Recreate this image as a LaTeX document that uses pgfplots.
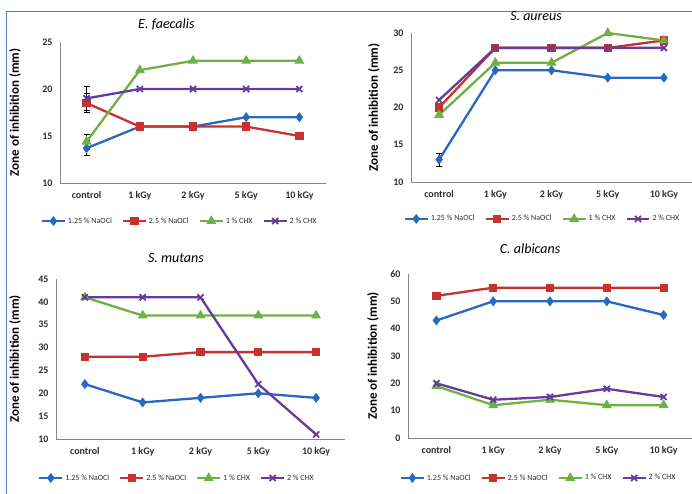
\documentclass[border=0pt]{standalone}
\usepackage{pgfplots}
\pgfplotsset{compat=1.18}
\usepackage{fontspec}
\setmainfont{Carlito}
\definecolor{frameblue}{RGB}{79,129,189}
\definecolor{axisgray}{RGB}{134,134,134}
\definecolor{ticktext}{RGB}{45,45,45}
\definecolor{sblue}{RGB}{40,104,192}
\definecolor{sred}{RGB}{200,50,44}
\definecolor{sgreen}{RGB}{110,176,66}
\definecolor{spurple}{RGB}{100,60,156}
\pgfplotsset{
  panel/.style={
    scale only axis, anchor=south west,
    xmin=-0.5, xmax=4.5, xtick={0,...,4},
    xticklabels={control,1 kGy,2 kGy,5 kGy,10 kGy},
    axis x line*=bottom, axis y line*=left,
    axis line style={draw=axisgray, line width=0.8pt, -},
    major tick length=0pt,
    /pgf/number format/assume math mode=true,
    tick label style={font=\bfseries\fontsize{10}{12}\selectfont, text=ticktext},
    yticklabel style={xshift=-4pt},
    xticklabel style={yshift=-5pt},
    ylabel={Zone of inhibition (mm)},
    title style={font=\itshape\fontsize{14}{16}\selectfont, anchor=center},
    legend columns=4,
    legend cell align=left,
    legend style={draw=none, fill=none, anchor=center,
      font=\fontsize{8}{10}\selectfont, text=ticktext,
      /tikz/every even column/.append style={column sep=8pt}},
    legend image code/.code={\draw[mark repeat=2,mark phase=2] plot coordinates {(0cm,0cm) (0.4cm,0cm) (0.8cm,0cm)};},
  },
  sb/.style={color=sblue, line width=2.3pt, mark=diamond*, mark size=4.2pt, mark options={solid, fill=sblue, line width=1pt}},
  sr/.style={color=sred, line width=2.3pt, mark=square*, mark size=3.6pt, mark options={solid, fill=sred, line width=1pt}},
  sg/.style={color=sgreen, line width=2.3pt, mark=triangle*, mark size=4.8pt, mark options={solid, fill=sgreen, line width=1pt}},
  sp/.style={color=spurple, line width=2.3pt, mark=x, mark size=4.3pt, mark options={solid, line width=1.8pt}},
  eb/.style={forget plot, draw=none, mark=none, error bars/.cd, y dir=both, y explicit,
     error bar style={black, line width=0.6pt}, error mark options={black, line width=0.6pt, mark size=3pt, rotate=90}},
  yl/.style={ylabel style={at={(axis description cs:#1,0.5)}, anchor=center, font=\bfseries\fontsize{13}{15}\selectfont}},
}
\begin{document}
\begin{tikzpicture}
\path[use as bounding box] (0pt,0pt) rectangle (692pt,494pt);
\draw[frameblue, line width=1pt] (6.5pt,0pt) -- (6.5pt,482pt) -- (692pt,482pt);

% E. faecalis
\begin{axis}[panel, at={(60pt,311pt)}, width=266pt, height=141pt,
  ymin=10, ymax=25, ytick={10,15,20,25},
  title={E. faecalis}, title style={at={(axis description cs:0.40,1)}, yshift=12pt},
  yl=-0.169,
  legend style={at={(axis description cs:0.45,-0.27)}}]
\addplot[sb] coordinates {(0,13.7) (1,16) (2,16) (3,17) (4,17)};
\addplot[sr] coordinates {(0,18.5) (1,16) (2,16) (3,16) (4,15)};
\addplot[sg] coordinates {(0,14.4) (1,22) (2,23) (3,23) (4,23)};
\addplot[sp] coordinates {(0,19) (1,20) (2,20) (3,20) (4,20)};
\legend{1.25 \% NaOCl, 2.5 \% NaOCl, 1 \% CHX, 2 \% CHX}
\addplot[eb] coordinates {(0,19) +- (0,1.3)};
\addplot[eb] coordinates {(0,18.5) +- (0,1.0)};
\addplot[eb] coordinates {(0,14.4) +- (0,0.8)};
\addplot[eb] coordinates {(0,13.7) +- (0,0.8)};
\end{axis}

% S. aureus
\begin{axis}[panel, at={(411pt,312pt)}, width=281pt, height=149pt,
  ymin=10, ymax=30, ytick={10,15,20,25,30},
  title={S. aureus}, title style={at={(axis description cs:0.445,1)}, yshift=11pt},
  yl=-0.132,
  legend style={at={(axis description cs:0.468,-0.248)}}]
\addplot[sb] coordinates {(0,13) (1,25) (2,25) (3,24) (4,24)};
\addplot[sr] coordinates {(0,20) (1,28) (2,28) (3,28) (4,29)};
\addplot[sg] coordinates {(0,19) (1,26) (2,26) (3,30) (4,29)};
\addplot[sp] coordinates {(0,21) (1,28) (2,28) (3,28) (4,28)};
\legend{1.25 \% NaOCl, 2.5 \% NaOCl, 1 \% CHX, 2 \% CHX}
\addplot[eb] coordinates {(0,13) +- (0,0.9)};
\end{axis}

% S. mutans
\begin{axis}[panel, at={(56pt,55pt)}, width=289pt, height=160pt,
  ymin=10, ymax=45, ytick={10,15,...,45},
  title={S. mutans}, title style={at={(axis description cs:0.415,1)}, yshift=15pt},
  yl=-0.142,
  legend style={at={(axis description cs:0.419,-0.244)}}]
\addplot[sb] coordinates {(0,22) (1,18) (2,19) (3,20) (4,19)};
\addplot[sr] coordinates {(0,28) (1,28) (2,29) (3,29) (4,29)};
\addplot[sg] coordinates {(0,41) (1,37) (2,37) (3,37) (4,37)};
\addplot[sp] coordinates {(0,41) (1,41) (2,41) (3,22) (4,11)};
\legend{1.25 \% NaOCl, 2.5 \% NaOCl, 1 \% CHX, 2 \% CHX}
\end{axis}

% C. albicans
\begin{axis}[panel, at={(408pt,56pt)}, width=284pt, height=164pt,
  ymin=0, ymax=60, ytick={0,10,...,60},
  title={C. albicans}, title style={at={(axis description cs:0.43,1)}, yshift=19pt},
  yl=-0.123,
  legend style={at={(axis description cs:0.46,-0.244)}}]
\addplot[sb] coordinates {(0,43) (1,50) (2,50) (3,50) (4,45)};
\addplot[sr] coordinates {(0,52) (1,55) (2,55) (3,55) (4,55)};
\addplot[sg] coordinates {(0,19) (1,12) (2,14) (3,12) (4,12)};
\addplot[sp] coordinates {(0,20) (1,14) (2,15) (3,18) (4,15)};
\legend{1.25 \% NaOCl, 2.5 \% NaOCl, 1 \% CHX, 2 \% CHX}
\end{axis}
\end{tikzpicture}
\end{document}
